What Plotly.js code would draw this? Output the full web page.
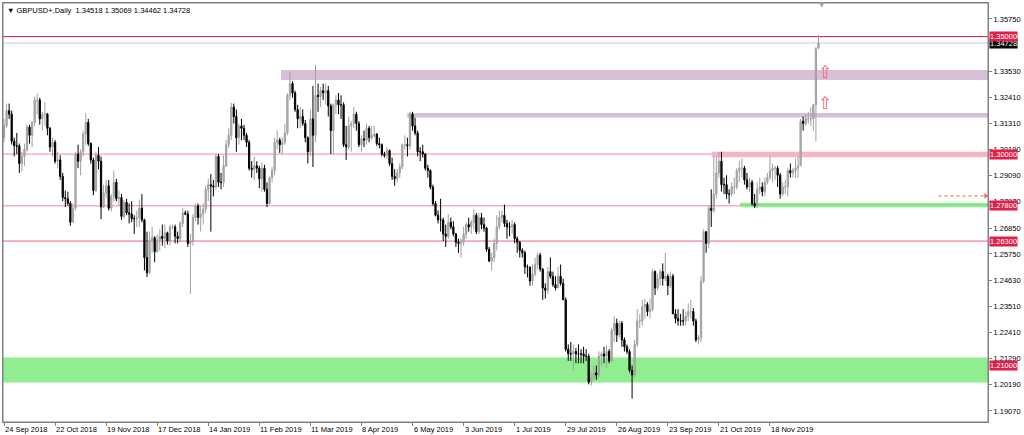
<!DOCTYPE html>
<html><head><meta charset="utf-8">
<script src="https://cdn.plot.ly/plotly-3.0.1.min.js"></script>
<style>html,body{margin:0;padding:0;background:#fff;}#chart{width:1024px;height:435px;}</style>
</head><body><div id="chart"></div>
<script>
// Daily GBPUSD bars, one row per week (Mon..Fri), from 24 Sep 2018 to 13 Dec 2019
const openP = [
1.3070,1.3120,1.3185,1.3170,1.3055, 1.3035,1.3035,1.2960,1.2990,1.3020, 1.3115,1.3080,1.3135,1.3230,1.3230, 1.3150,1.3170,1.3170,1.3110,1.3030,
1.3050,1.2970,1.2975,1.2905,1.2815, 1.2810,1.2790,1.2710,1.2770,1.3000, 1.2970,1.3010,1.3085,1.3135,1.3045, 1.2975,1.2845,1.2995,1.2970,1.2775,
1.2835,1.2865,1.2770,1.2820,1.2880, 1.2810,1.2815,1.2735,1.2795,1.2750, 1.2745,1.2725,1.2725,1.2730,1.2770, 1.2720,1.2560,1.2495,1.2630,1.2645,
1.2585,1.2635,1.2650,1.2640,1.2665, 1.2630,1.2690,1.2690,1.2650,1.2640, 1.2705,1.2750,1.2745,1.2620,1.2630, 1.2730,1.2780,1.2730,1.2745,1.2765,
1.2850,1.2870,1.2865,1.2860,1.2990, 1.2880,1.2880,1.2950,1.3040,1.3080, 1.3200,1.3160,1.3070,1.3120,1.3110, 1.3080,1.3050,1.2940,1.2935,1.2950,
1.2940,1.2895,1.2940,1.2850,1.2790, 1.2900,1.2930,1.3050,1.3060,1.3040, 1.3050,1.3090,1.3250,1.3300,1.3260, 1.3190,1.3150,1.3160,1.3130,1.3070,
1.3010,1.3150,1.3080,1.3250,1.3245, 1.3270,1.3260,1.3270,1.3205,1.3100, 1.3210,1.3230,1.3210,1.3210,1.3040, 1.3030,1.3120,1.3130,1.3170,1.3130,
1.3040,1.3065,1.3060,1.3110,1.3070, 1.3080,1.3085,1.3045,1.3040,1.3000, 1.2995,1.3015,1.2960,1.2905,1.2895, 1.2920,1.2945,1.3040,1.3040,1.3035,
1.3170,1.3120,1.3090,1.3010,1.3010, 1.3000,1.2940,1.2930,1.2860,1.2790, 1.2740,1.2720,1.2720,1.2660,1.2650, 1.2710,1.2690,1.2660,1.2625,1.2620,
1.2625,1.2660,1.2700,1.2690,1.2710, 1.2740,1.2670,1.2730,1.2700,1.2685, 1.2595,1.2545,1.2560,1.2620,1.2690, 1.2730,1.2740,1.2705,1.2690,1.2690,
1.2700,1.2640,1.2625,1.2590,1.2580, 1.2520,1.2520,1.2460,1.2490,1.2530, 1.2570,1.2510,1.2430,1.2420,1.2500, 1.2480,1.2445,1.2430,1.2480,1.2450,
1.2380,1.2170,1.2150,1.2150,1.2160, 1.2150,1.2150,1.2150,1.2140,1.2140, 1.2030,1.2050,1.2070,1.2060,1.2140, 1.2150,1.2140,1.2160,1.2120,1.2250,
1.2280,1.2230,1.2280,1.2210,1.2180, 1.2160,1.2080,1.2060,1.2190,1.2290, 1.2290,1.2350,1.2360,1.2330,1.2340, 1.2500,1.2430,1.2470,1.2500,1.2470,
1.2480,1.2440,1.2480,1.2320,1.2300, 1.2290,1.2290,1.2290,1.2310,1.2330, 1.2330,1.2290,1.2210,1.2220,1.2460, 1.2670,1.2620,1.2770,1.2760,1.2830,
1.2920,1.2970,1.2870,1.2870,1.2830, 1.2830,1.2860,1.2860,1.2930,1.2940, 1.2940,1.2890,1.2860,1.2880,1.2790, 1.2780,1.2850,1.2860,1.2840,1.2880,
1.2900,1.2930,1.2940,1.2940,1.2910, 1.2830,1.2860,1.2860,1.2930,1.2920, 1.2930,1.2940,1.2950,1.3140,1.3130, 1.3150,1.3150,1.3150,1.3210,1.34518
];
const highP = [
1.3150,1.3215,1.3215,1.3185,1.3070, 1.3090,1.3045,1.3010,1.3045,1.3125, 1.3125,1.3140,1.3245,1.3258,1.3240, 1.3180,1.3220,1.3175,1.3115,1.3070,
1.3060,1.3010,1.2995,1.2920,1.2845, 1.2840,1.2800,1.2790,1.3010,1.3040, 1.3020,1.3100,1.3175,1.3150,1.3050, 1.2985,1.3010,1.3030,1.2990,1.2870,
1.2890,1.2890,1.2830,1.2930,1.2895, 1.2845,1.2830,1.2805,1.2810,1.2790, 1.2800,1.2740,1.2760,1.2805,1.2830, 1.2725,1.2670,1.2670,1.2690,1.2650,
1.2660,1.2680,1.2700,1.2700,1.2670, 1.2700,1.2700,1.2700,1.2670,1.2715, 1.2770,1.2760,1.2760,1.2660,1.2745, 1.2790,1.2790,1.2780,1.2790,1.2865,
1.2895,1.2915,1.2890,1.3000,1.3000, 1.2920,1.2995,1.3060,1.3110,1.3218, 1.3215,1.3190,1.3130,1.3150,1.3125, 1.3090,1.3060,1.2970,1.2990,1.2970,
1.2950,1.2965,1.2955,1.2880,1.2905, 1.2945,1.3070,1.3100,1.3070,1.3070, 1.3130,1.3260,1.3350,1.3310,1.3270, 1.3210,1.3200,1.3190,1.3145,1.3075,
1.3190,1.3290,1.3380,1.3300,1.3285, 1.3300,1.3300,1.3290,1.3215,1.3215, 1.3250,1.3260,1.3250,1.3220,1.3120, 1.3160,1.3140,1.3200,1.3180,1.3140,
1.3080,1.3100,1.3130,1.3120,1.3120, 1.3120,1.3090,1.3070,1.3045,1.3010, 1.3030,1.3020,1.2985,1.2935,1.2935, 1.2960,1.3045,1.3080,1.3070,1.3180,
1.3180,1.3155,1.3100,1.3030,1.3040, 1.3005,1.2955,1.2935,1.2870,1.2800, 1.2760,1.2810,1.2730,1.2700,1.2745, 1.2730,1.2715,1.2665,1.2640,1.2640,
1.2690,1.2710,1.2730,1.2720,1.2765, 1.2750,1.2750,1.2750,1.2730,1.2690, 1.2605,1.2580,1.2640,1.2740,1.2760, 1.2760,1.2785,1.2720,1.2710,1.2720,
1.2710,1.2650,1.2630,1.2600,1.2590, 1.2530,1.2520,1.2530,1.2560,1.2580, 1.2580,1.2515,1.2450,1.2520,1.2560, 1.2500,1.2480,1.2520,1.2530,1.2470,
1.2390,1.2190,1.2200,1.2190,1.2175, 1.2190,1.2170,1.2180,1.2170,1.2150, 1.2070,1.2100,1.2100,1.2160,1.2160, 1.2180,1.2185,1.2170,1.2260,1.2310,
1.2300,1.2290,1.2290,1.2220,1.2190, 1.2170,1.2100,1.2210,1.2340,1.2320, 1.2380,1.2385,1.2370,1.2385,1.2510, 1.2505,1.2490,1.2510,1.2535,1.2580,
1.2490,1.2500,1.2490,1.2340,1.2340, 1.2320,1.2340,1.2330,1.2365,1.2380, 1.2345,1.2300,1.2230,1.2480,1.2680, 1.2670,1.2780,1.2850,1.2990,1.2990,
1.3010,1.3010,1.2900,1.2910,1.2850, 1.2880,1.2900,1.2940,1.2970,1.2980, 1.2950,1.2920,1.2900,1.2890,1.2830, 1.2880,1.2900,1.2880,1.2900,1.2920,
1.2990,1.2960,1.2950,1.2950,1.2920, 1.2880,1.2890,1.2940,1.2960,1.2940, 1.2980,1.2990,1.3150,1.3160,1.3170, 1.3180,1.3200,1.3215,1.3455,1.35069
];
const lowP = [
1.3050,1.3110,1.3150,1.3040,1.2990, 1.3000,1.2920,1.2925,1.2950,1.3010, 1.3045,1.3030,1.3120,1.3170,1.3125, 1.3100,1.3120,1.3080,1.3010,1.2990,
1.2960,1.2940,1.2890,1.2800,1.2775, 1.2780,1.2695,1.2710,1.2760,1.2940, 1.2910,1.2990,1.3040,1.3035,1.2960, 1.2825,1.2840,1.2935,1.2723,1.2770,
1.2815,1.2760,1.2755,1.2800,1.2800, 1.2780,1.2720,1.2725,1.2740,1.2705, 1.2710,1.2660,1.2690,1.2690,1.2710, 1.2505,1.2477,1.2490,1.2580,1.2540,
1.2580,1.2590,1.2610,1.2600,1.2615, 1.2610,1.2680,1.2620,1.2620,1.2625, 1.2690,1.2740,1.2605,1.2405,1.2610, 1.2715,1.2700,1.2670,1.2700,1.2750,
1.2800,1.2670,1.2820,1.2850,1.2860, 1.2850,1.2860,1.2945,1.3025,1.3060, 1.3130,1.3010,1.3040,1.3060,1.3060, 1.3030,1.2930,1.2900,1.2890,1.2920,
1.2855,1.2840,1.2840,1.2775,1.2785, 1.2880,1.2910,1.3020,1.3005,1.3000, 1.3040,1.3080,1.3230,1.3240,1.3180, 1.3110,1.3110,1.3120,1.3050,1.2960,
1.2990,1.2945,1.3050,1.3180,1.3200, 1.3230,1.3210,1.3160,1.3000,1.3000, 1.3170,1.3170,1.3150,1.3030,1.2975, 1.3020,1.3010,1.3110,1.3100,1.3030,
1.3010,1.3030,1.3040,1.3050,1.3060, 1.3070,1.3035,1.3025,1.2990,1.2985, 1.2980,1.2950,1.2890,1.2865,1.2880, 1.2900,1.2935,1.3020,1.2990,1.3020,
1.3100,1.3080,1.2990,1.2970,1.2985, 1.2930,1.2900,1.2850,1.2780,1.2735, 1.2705,1.2670,1.2630,1.2605,1.2640, 1.2680,1.2650,1.2605,1.2580,1.2560,
1.2610,1.2640,1.2670,1.2660,1.2680, 1.2660,1.2660,1.2680,1.2670,1.2585, 1.2540,1.2505,1.2540,1.2590,1.2680, 1.2710,1.2690,1.2640,1.2650,1.2660,
1.2620,1.2580,1.2560,1.2560,1.2490, 1.2475,1.2440,1.2440,1.2480,1.2510, 1.2500,1.2380,1.2385,1.2405,1.2470, 1.2435,1.2420,1.2430,1.2440,1.2380,
1.2160,1.2120,1.2120,1.2080,1.2110, 1.2110,1.2110,1.2110,1.2120,1.2020, 1.2015,1.2040,1.2040,1.2050,1.2100, 1.2110,1.2090,1.2110,1.2115,1.2200,
1.2200,1.2220,1.2180,1.2160,1.2150, 1.2070,1.1960,1.2050,1.2180,1.2260, 1.2270,1.2300,1.2310,1.2300,1.2330, 1.2400,1.2420,1.2440,1.2440,1.2460,
1.2400,1.2430,1.2320,1.2280,1.2270, 1.2270,1.2270,1.2270,1.2290,1.2300, 1.2270,1.2200,1.2190,1.2200,1.2450, 1.2580,1.2600,1.2690,1.2750,1.2810,
1.2900,1.2840,1.2830,1.2810,1.2790, 1.2820,1.2830,1.2850,1.2880,1.2900, 1.2870,1.2850,1.2840,1.2780,1.2770, 1.2770,1.2830,1.2820,1.2820,1.2870,
1.2890,1.2880,1.2890,1.2860,1.2810, 1.2820,1.2830,1.2820,1.2900,1.2900, 1.2900,1.2900,1.2950,1.3100,1.3120, 1.3130,1.3120,1.3100,1.3055,1.34462
];
const closeP = [
1.3120,1.3185,1.3170,1.3055,1.3035, 1.3035,1.2960,1.2990,1.3020,1.3115, 1.3080,1.3135,1.3230,1.3230,1.3150, 1.3170,1.3170,1.3110,1.3030,1.3050,
1.2970,1.2975,1.2905,1.2815,1.2810, 1.2790,1.2710,1.2770,1.3000,1.2970, 1.3010,1.3085,1.3135,1.3045,1.2975, 1.2845,1.2995,1.2970,1.2775,1.2835,
1.2865,1.2770,1.2820,1.2880,1.2810, 1.2815,1.2735,1.2795,1.2750,1.2745, 1.2725,1.2725,1.2730,1.2770,1.2720, 1.2560,1.2495,1.2630,1.2645,1.2585,
1.2635,1.2650,1.2640,1.2665,1.2630, 1.2690,1.2690,1.2650,1.2640,1.2705, 1.2750,1.2745,1.2620,1.2630,1.2730, 1.2780,1.2730,1.2745,1.2765,1.2850,
1.2870,1.2865,1.2860,1.2990,1.2880, 1.2880,1.2950,1.3040,1.3080,1.3200, 1.3160,1.3070,1.3120,1.3110,1.3080, 1.3050,1.2940,1.2935,1.2950,1.2940,
1.2895,1.2940,1.2850,1.2790,1.2900, 1.2930,1.3050,1.3060,1.3040,1.3050, 1.3090,1.3250,1.3300,1.3260,1.3190, 1.3150,1.3160,1.3130,1.3070,1.3010,
1.3150,1.3080,1.3250,1.3245,1.3270, 1.3260,1.3270,1.3205,1.3100,1.3210, 1.3230,1.3210,1.3210,1.3040,1.3030, 1.3120,1.3130,1.3170,1.3130,1.3040,
1.3065,1.3060,1.3110,1.3070,1.3080, 1.3085,1.3045,1.3040,1.3000,1.2995, 1.3015,1.2960,1.2905,1.2895,1.2920, 1.2945,1.3040,1.3040,1.3035,1.3170,
1.3120,1.3090,1.3010,1.3010,1.3000, 1.2940,1.2930,1.2860,1.2790,1.2740, 1.2720,1.2720,1.2660,1.2650,1.2710, 1.2690,1.2660,1.2625,1.2620,1.2625,
1.2660,1.2700,1.2690,1.2710,1.2740, 1.2670,1.2730,1.2700,1.2685,1.2595, 1.2545,1.2560,1.2620,1.2690,1.2730, 1.2740,1.2705,1.2690,1.2690,1.2700,
1.2640,1.2625,1.2590,1.2580,1.2520, 1.2520,1.2460,1.2490,1.2530,1.2570, 1.2510,1.2430,1.2420,1.2500,1.2480, 1.2445,1.2430,1.2480,1.2450,1.2380,
1.2170,1.2150,1.2150,1.2160,1.2150, 1.2150,1.2150,1.2140,1.2140,1.2030, 1.2050,1.2070,1.2060,1.2140,1.2150, 1.2140,1.2160,1.2120,1.2250,1.2280,
1.2230,1.2280,1.2210,1.2180,1.2160, 1.2080,1.2060,1.2190,1.2290,1.2290, 1.2350,1.2360,1.2330,1.2340,1.2500, 1.2430,1.2470,1.2500,1.2470,1.2480,
1.2440,1.2480,1.2320,1.2300,1.2290, 1.2290,1.2290,1.2310,1.2330,1.2330, 1.2290,1.2210,1.2220,1.2460,1.2670, 1.2620,1.2770,1.2760,1.2830,1.2920,
1.2970,1.2870,1.2870,1.2830,1.2830, 1.2860,1.2860,1.2930,1.2940,1.2940, 1.2890,1.2860,1.2880,1.2790,1.2780, 1.2850,1.2860,1.2840,1.2880,1.2900,
1.2930,1.2940,1.2940,1.2910,1.2830, 1.2860,1.2860,1.2930,1.2920,1.2930, 1.2940,1.2950,1.3140,1.3130,1.3150, 1.3150,1.3150,1.3210,1.3450,1.34728
];

// Time-axis labels (bar index -> label)
const dateTickIdx = [0,20,40,60,80,100,120,140,160,180,200,220,240,260,280,300];
const dateTickText = ["24 Sep 2018","22 Oct 2018","19 Nov 2018","17 Dec 2018","14 Jan 2019","11 Feb 2019","11 Mar 2019","8 Apr 2019","6 May 2019","3 Jun 2019","1 Jul 2019","29 Jul 2019","26 Aug 2019","23 Sep 2019","21 Oct 2019","18 Nov 2019"];

// Price-axis ticks
const priceTicks = [1.35750,1.33530,1.32410,1.31310,1.30190,1.29090,1.27970,1.26850,1.25750,1.24630,1.23510,1.22410,1.21290,1.20190,1.19070];

// Horizontal levels drawn on the chart
const levelPrices = [1.35000, 1.30000, 1.27800, 1.26300, 1.21000];
const currentPrice = 1.34728;

// Zones: start bar index, low price, high price
const zoneStartIdx = [108.5, 157.9, 277.3, 288.3, -1];
const zoneLow  = [1.3315, 1.3156, 1.2987, 1.2774, 1.2028];
const zoneHigh = [1.3358, 1.3175, 1.3010, 1.2793, 1.2134];

// Arrow markers (bar index, price)
const upArrowIdx = [321.5, 321.5];
const upArrowPrice = [1.3349, 1.3218];
const dottedStartIdx = 366;
const dottedEndIdx = 384.5;
const dottedPrice = 1.2822;

const title = "\u25BC GBPUSD+,Daily  1.34518 1.35069 1.34462 1.34728";

// ---------------------------------------------------------------
const xIdx = closeP.map((_, i) => i);
const XMAX = 385.4;
const fontFam = 'Liberation Sans, Arial, sans-serif';

const levelColors = ['#dc143c', '#f28aa0', '#f28aa0', '#e06878', '#c8a078'];
const zoneColors = ['#d8bfd8', '#d8bfd8', '#f7b4c2', '#98ee98', '#90ee90'];

const shapes = [];
shapes.push({type:'rect', xref:'paper', yref:'paper', x0:0, x1:1, y0:0, y1:1, line:{color:'#808080', width:1}, layer:'above'});
zoneStartIdx.forEach((s, i) => {
  shapes.push({type:'rect', xref:'x', yref:'y', x0: s < 0 ? -0.4 : s, x1: XMAX, y0: zoneLow[i], y1: zoneHigh[i],
    fillcolor: zoneColors[i], line:{width:0}, layer:'below'});
});
shapes.push({type:'line', xref:'x', yref:'y', x0: zoneStartIdx[3], x1: XMAX, y0:(zoneLow[3]+zoneHigh[3])/2, y1:(zoneLow[3]+zoneHigh[3])/2, line:{color:'#78d878', width:1}, layer:'below'});
levelPrices.forEach((p, i) => {
  shapes.push({type:'line', xref:'paper', yref:'y', x0:0, x1:1, y0:p, y1:p, line:{color:levelColors[i], width:1}, layer:'below'});
});
shapes.push({type:'line', xref:'paper', yref:'y', x0:0, x1:1, y0:currentPrice, y1:currentPrice, line:{color:'#c8c8c8', width:1}, layer:'below'});
shapes.push({type:'line', xref:'x', yref:'y', x0:dottedStartIdx, x1:dottedEndIdx, y0:dottedPrice, y1:dottedPrice, line:{color:'#ff8050', width:1.2, dash:'dot'}, layer:'above'});

const annotations = [];
dateTickIdx.forEach((ix, i) => {
  annotations.push({x: ix, xref:'x', y:0, yref:'paper', yanchor:'top', xanchor:'left', yshift:-1, xshift:-1,
    text: dateTickText[i], showarrow:false, font:{family:fontFam, size:7.5, color:'#000'}});
});
// current price label first, level labels drawn on top of it
const labelPrices = [currentPrice].concat(levelPrices);
labelPrices.forEach((p, i) => {
  const isCur = i === 0;
  annotations.push({x:1, xref:'paper', y:p, yref:'y', xanchor:'left', yanchor:'middle', xshift:1,
    text: p.toFixed(5), showarrow:false, bgcolor: isCur ? '#000000' : '#e0204a', borderpad:0,
    font:{family:fontFam, size:7.5, color:'#ffffff'}});
});
upArrowIdx.forEach((ix, i) => {
  annotations.push({x: ix, xref:'x', y: upArrowPrice[i], yref:'y', text:'\u21E7', showarrow:false,
    font:{family:'DejaVu Sans', size:17, color:'#ff5a7a'}});
});
annotations.push({x:0, xref:'paper', y:1, yref:'paper', xanchor:'left', yanchor:'top', xshift:2, yshift:-1,
  text:title, showarrow:false, font:{family:fontFam, size:7.5, color:'#000'}});
annotations.push({x:closeP.length + 0.3, xref:'x', y:1, yref:'paper', xanchor:'center', yanchor:'top', yshift:4,
  text:'\u25BC', showarrow:false, font:{family:'DejaVu Sans', size:7, color:'#a0a0a0'}});

const traces = [
  {type:'candlestick', x:xIdx, open:openP, high:highP, low:lowP, close:closeP,
   increasing:{line:{color:'#a0a0a0', width:1}, fillcolor:'#b0b0b0'},
   decreasing:{line:{color:'#000000', width:1}, fillcolor:'#000000'},
   whiskerwidth:0, hoverinfo:'skip', showlegend:false},
  {type:'scatter', mode:'markers', x:[dottedEndIdx], y:[dottedPrice],
   marker:{symbol:'triangle-right', size:5, color:'#ff6030'}, hoverinfo:'skip', showlegend:false}
];

const layout = {
  width:1024, height:435,
  margin:{l:3, r:36, t:3, b:13, pad:0},
  paper_bgcolor:'#ffffff', plot_bgcolor:'#ffffff',
  showlegend:false,
  font:{family:fontFam, size:7.5, color:'#000'},
  xaxis:{range:[-0.4, XMAX], showgrid:false, zeroline:false, rangeslider:{visible:false},
    tickmode:'array', tickvals:dateTickIdx, showticklabels:false, ticks:'outside', ticklen:3, tickcolor:'#808080',
    showline:true, linecolor:'#808080', linewidth:1, mirror:true, fixedrange:true},
  yaxis:{range:[1.1860, 1.3643], side:'right', showgrid:false, zeroline:false,
    tickmode:'array', tickvals:priceTicks, ticktext:priceTicks.map(v => v.toFixed(5)),
    ticks:'outside', ticklen:3, tickcolor:'#808080', tickfont:{family:fontFam, size:7.5, color:'#000'},
    showline:true, linecolor:'#808080', linewidth:1, mirror:true, fixedrange:true},
  shapes:shapes, annotations:annotations
};

Plotly.newPlot('chart', traces, layout, {displayModeBar:false, staticPlot:true});
</script>
</body></html>
